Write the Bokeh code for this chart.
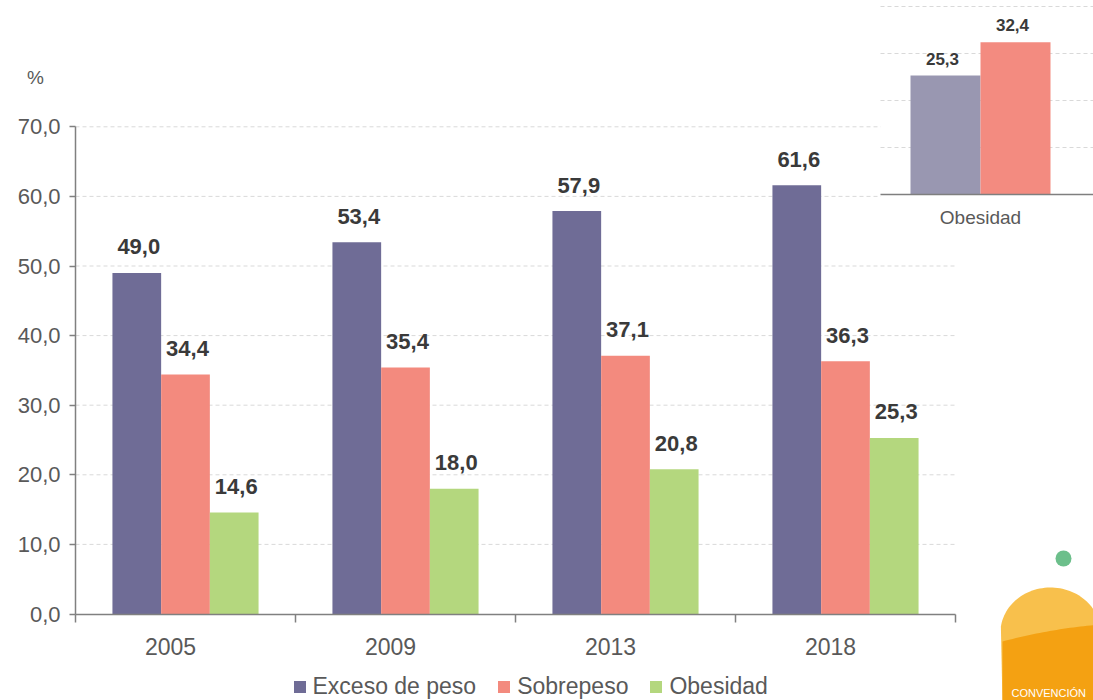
import numpy as np
from bokeh.plotting import figure
from bokeh.models import Range1d, LinearAxis, FixedTicker, Legend, LegendItem
from bokeh.core.properties import value
from bokeh.embed import file_html
from bokeh.resources import INLINE

# ---------------- data ----------------
years = ["2005", "2009", "2013", "2018"]
exceso_de_peso = [49.0, 53.4, 57.9, 61.6]
sobrepeso = [34.4, 35.4, 37.1, 36.3]
obesidad = [14.6, 18.0, 20.8, 25.3]
series_names = ["Exceso de peso", "Sobrepeso", "Obesidad"]
series_colors = ["#6f6c96", "#f38a7e", "#b4d77e"]
y_ticks = [0, 10, 20, 30, 40, 50, 60, 70]

inset_category = "Obesidad"
inset_values = [25.3, 32.4]
inset_colors = ["#9997b1", "#f38b80"]
inset_grid = [10, 20, 30, 40]

logo_text = "CONVENCIÓN"


def fmt(v):
    return f"{v:.1f}".replace(".", ",")


# ---------------- layout (page pixels) ----------------
W, H = 1093, 700
OFF = 0
X0, CAT_PX = 75.0, 220.0          # main axis origin / category width (px)
Y0, PPU = 613.5, 6.96             # main baseline / px per unit
IX0, IBAR_PX = 980.0, 70.0        # inset centre / bar width (px)
IY0, IPPU = 194.0, 4.7            # inset baseline / px per unit
BAR_W = 0.2214
LABEL_SHIFT = -0.068

x_range = Range1d((OFF - X0) / CAT_PX, (OFF + W - X0) / CAT_PX)
y_range = Range1d((Y0 - (OFF + H)) / PPU, (Y0 - OFF) / PPU)

p = figure(width=W, height=H, x_range=x_range, y_range=y_range,
           x_axis_type=None, y_axis_type=None, toolbar_location=None,
           output_backend="svg", min_border=0, outline_line_color=None,
           background_fill_color="white", border_fill_color="white")

p.extra_x_ranges = {
    "inset_x": Range1d((OFF - IX0) / IBAR_PX, (OFF + W - IX0) / IBAR_PX),
    "px_x": Range1d(OFF, OFF + W),
}
p.extra_y_ranges = {
    "inset_y": Range1d((IY0 - (OFF + H)) / IPPU, (IY0 - OFF) / IPPU),
    "px_y": Range1d(OFF + H, OFF),
}

FONT_NAME = "Liberation Sans"
FONT = value(FONT_NAME)

# main gridlines
p.segment(x0=0, x1=len(years), y0=y_ticks[1:], y1=y_ticks[1:],
          line_color="#d9d9d9", line_width=1, line_dash="4 3")

# main bars
renderers = []
for i, (vals, color) in enumerate(zip([exceso_de_peso, sobrepeso, obesidad], series_colors)):
    xs = [k + 0.5 + (i - 1) * BAR_W for k in range(len(years))]
    r = p.vbar(x=xs, top=vals, bottom=0, width=BAR_W, fill_color=color, line_color=None)
    renderers.append(r)
    p.text(x=xs, y=vals, text=[fmt(v) for v in vals], text_align="center",
           text_baseline="alphabetic", y_offset=-26, x_offset=2,
           text_font=FONT, text_font_style="bold", text_font_size="22px",
           text_color="#3a3a3a")

# "%" label
p.text(x=[35], y=[77], text=["%"], x_range_name="px_x", y_range_name="px_y",
       text_align="center", text_baseline="middle", text_font=FONT,
       text_font_size="19px", text_color="#595959")

# main y axis
yax = LinearAxis(fixed_location=0, bounds=(0, 70), ticker=FixedTicker(ticks=y_ticks),
                 major_label_overrides={t: fmt(t) for t in y_ticks},
                 major_tick_out=6, major_tick_in=0, minor_tick_out=0, minor_tick_in=0,
                 axis_line_color="#808080", axis_line_width=1.5,
                 major_tick_line_color="#808080", major_tick_line_width=1.5,
                 major_label_text_font=FONT_NAME, major_label_text_font_size="22px",
                 major_label_text_color="#595959", major_label_standoff=9)
p.add_layout(yax, "left")

# main x axis (line + boundary ticks)
xax = LinearAxis(fixed_location=0, bounds=(0, len(years)),
                 ticker=FixedTicker(ticks=list(range(len(years) + 1))),
                 major_tick_out=8, major_tick_in=0, minor_tick_out=0, minor_tick_in=0,
                 axis_line_color="#808080", axis_line_width=1.5,
                 major_tick_line_color="#808080", major_tick_line_width=1.5,
                 major_label_text_alpha=0, major_label_text_font_size="10px")
p.add_layout(xax, "below")

# x category labels
label_pos = [k + 0.5 + LABEL_SHIFT for k in range(len(years))]
xlab = LinearAxis(fixed_location=0, bounds=(0, len(years)),
                  ticker=FixedTicker(ticks=label_pos),
                  major_label_overrides={pos: y for pos, y in zip(label_pos, years)},
                  major_tick_out=0, major_tick_in=0, minor_tick_out=0, minor_tick_in=0,
                  axis_line_color=None, major_tick_line_color=None,
                  major_label_text_font=FONT_NAME, major_label_text_font_size="23px",
                  major_label_text_color="#595959", major_label_standoff=24)
p.add_layout(xlab, "below")

# ---------------- inset ----------------
inset_left = (880 - IX0) / IBAR_PX
p.quad(left=[880], right=[OFF + W + 10], top=[-5], bottom=[244],
       x_range_name="px_x", y_range_name="px_y", fill_color="white", line_color=None)
p.segment(x0=inset_left, x1=2.0, y0=inset_grid, y1=inset_grid,
          x_range_name="inset_x", y_range_name="inset_y",
          line_color="#d9d9d9", line_width=1, line_dash="4 3")
ixs = [-0.5, 0.5]
p.vbar(x=ixs, top=inset_values, bottom=0, width=1.0, fill_color=inset_colors,
       line_color=None, x_range_name="inset_x", y_range_name="inset_y")
p.text(x=ixs, y=inset_values, text=[fmt(v) for v in inset_values],
       x_range_name="inset_x", y_range_name="inset_y",
       text_align="center", text_baseline="alphabetic", y_offset=-17, x_offset=-3,
       text_font=FONT, text_font_style="bold", text_font_size="17px", text_color="#3a3a3a")
iax = LinearAxis(x_range_name="inset_x", y_range_name="inset_y", fixed_location=0,
                 bounds=(inset_left, 2.0), ticker=FixedTicker(ticks=[0]),
                 major_label_overrides={0: inset_category},
                 major_tick_out=0, major_tick_in=0, minor_tick_out=0, minor_tick_in=0,
                 axis_line_color="#7f7f7f", axis_line_width=1.5, major_tick_line_color=None,
                 major_label_text_font=FONT_NAME, major_label_text_font_size="19px",
                 major_label_text_color="#595959", major_label_standoff=12)
p.add_layout(iax, "below")

# ---------------- logo (decoration, page px) ----------------
t = np.linspace(np.pi * 1.04, 2 * np.pi, 60)
dome_x = list(1050 + 50 * np.cos(t)) + [1100, 1002]
dome_y = list(632 + 45 * np.sin(t)) + [705, 705]
p.patch(x=dome_x, y=dome_y, x_range_name="px_x", y_range_name="px_y",
        fill_color="#f8c04c", line_color=None)
s = np.linspace(0, 1, 30)
band_x = list(1002 + 98 * s) + [1100, 1002]
band_y = list(641 - 26 * s + 9 * s * s) + [705, 705]
p.patch(x=band_x, y=band_y, x_range_name="px_x", y_range_name="px_y",
        fill_color="#f4a112", line_color=None)
p.scatter(x=[1063], y=[558], size=16, x_range_name="px_x", y_range_name="px_y",
          fill_color="#6cbf8b", line_color=None)
p.text(x=[1011], y=[698], text=[logo_text], x_range_name="px_x", y_range_name="px_y",
       text_align="left", text_baseline="bottom", text_font=FONT,
       text_font_size="11px", text_color="white")

# ---------------- legend ----------------
legend = Legend(items=[LegendItem(label=n, renderers=[r]) for n, r in zip(series_names, renderers)],
                orientation="horizontal", location=(291.5, 0),
                glyph_width=15, glyph_height=15, label_standoff=6, spacing=20,
                padding=0, margin=0, border_line_color=None, background_fill_alpha=0,
                label_text_font=FONT_NAME, label_text_font_size="23px", label_text_color="#595959")
p.add_layout(legend, "center")

open("out.html", "w").write(file_html(p, INLINE))
